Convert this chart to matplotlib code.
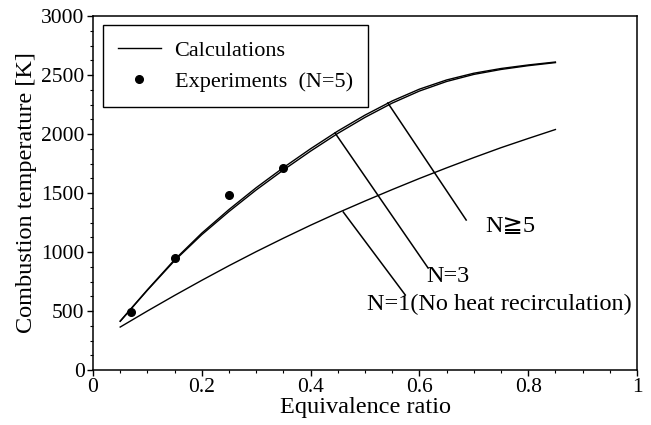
import matplotlib
matplotlib.use("Agg")
import matplotlib.pyplot as plt
from matplotlib.ticker import MultipleLocator
from matplotlib.lines import Line2D

plt.rcParams['font.family'] = ['Liberation Serif', 'DejaVu Sans', 'Noto Sans CJK JP']

# calculated curves
phi = [0.05, 0.10, 0.15, 0.20, 0.25, 0.30, 0.35, 0.40, 0.45, 0.50, 0.55, 0.60, 0.65, 0.70, 0.75, 0.80, 0.85]
t_n5 = [415, 680, 935, 1160, 1360, 1545, 1715, 1875, 2025, 2160, 2280, 2380, 2458, 2515, 2555, 2585, 2610]
t_n3 = [412, 676, 927, 1147, 1343, 1526, 1695, 1855, 2005, 2141, 2262, 2364, 2445, 2505, 2547, 2579, 2605]
t_n1 = [364, 500, 632, 760, 884, 1003, 1117, 1227, 1332, 1432, 1529, 1623, 1713, 1800, 1884, 1962, 2038]

# experiments (N=5)
exp_phi = [0.07, 0.15, 0.25, 0.35]
exp_t = [495, 950, 1480, 1712]

fig = plt.figure(figsize=(6.51, 4.25), dpi=100)
ax = fig.add_axes([93/651, 55/425, 544/651, 354/425])

ax.plot(phi, t_n5, color='black', lw=1.0)
ax.plot(phi, t_n3, color='black', lw=1.0)
ax.plot(phi, t_n1, color='black', lw=1.0)
ax.plot(exp_phi, exp_t, 'o', color='black', ms=5.5)

# leader lines and labels
ax.plot([0.542, 0.686], [2263, 1271], color='black', lw=1.1)
ax.plot([0.445, 0.616], [2008, 864], color='black', lw=1.1)
ax.plot([0.460, 0.574], [1339, 636], color='black', lw=1.1)
ax.text(0.722, 1215, 'N≧5', fontsize=17.5, va='center', ha='left')
ax.text(0.612, 790, 'N=3', fontsize=17.5, va='center', ha='left')
ax.text(0.504, 553, 'N=1(No heat recirculation)', fontsize=17.5, va='center', ha='left')

ax.set_xlim(0, 1)
ax.set_ylim(0, 3000)
ax.set_xticks([0, 0.2, 0.4, 0.6, 0.8, 1.0])
ax.set_xticklabels(['0', '0.2', '0.4', '0.6', '0.8', '1'])
ax.xaxis.set_minor_locator(MultipleLocator(0.05))
ax.yaxis.set_major_locator(MultipleLocator(500))
ax.yaxis.set_minor_locator(MultipleLocator(125))
ax.tick_params(which='major', direction='out', length=4, width=1, labelsize=15.5, pad=2)
ax.tick_params(which='minor', direction='out', length=2.5, width=0.8)
for s in ax.spines.values():
    s.set_linewidth(1.1)

ax.set_xlabel('Equivalence ratio', fontsize=17.5, labelpad=0)
ax.set_ylabel('Combustion temperature [K]', fontsize=17.5, labelpad=3)

handles = [Line2D([], [], color='black', lw=1.0),
           Line2D([], [], marker='o', ls='', color='black', ms=5.5)]
leg = ax.legend(handles, ['Calculations', 'Experiments  (N=5)'], loc='upper left',
                bbox_to_anchor=(0.018, 0.975), borderaxespad=0, fontsize=16,
                fancybox=False, framealpha=1, edgecolor='black', handlelength=1.9,
                handletextpad=0.63, borderpad=0.7, labelspacing=0.45)
leg.get_frame().set_linewidth(1.0)

fig.savefig('out.png', dpi=100)
